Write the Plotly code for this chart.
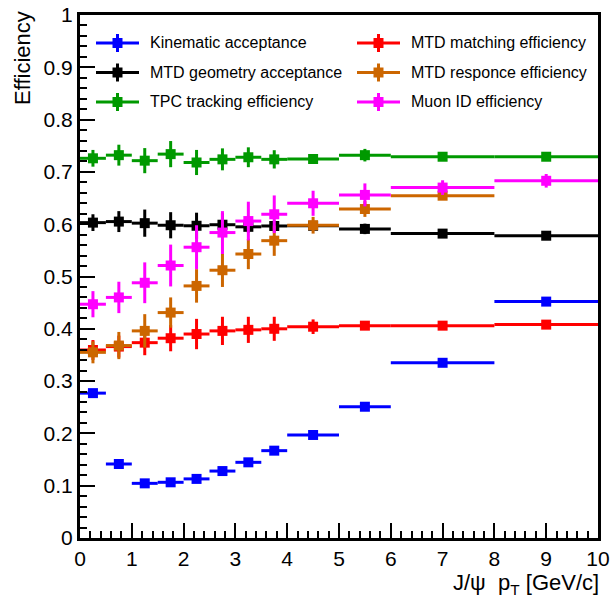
import plotly.graph_objects as go

# ---------------- data ----------------
bin_lo = [0, 0.5, 1, 1.5, 2, 2.5, 3, 3.5, 4, 5, 6, 8]
bin_hi = [0.5, 1, 1.5, 2, 2.5, 3, 3.5, 4, 5, 6, 8, 10]

kin = [0.277, 0.1415, 0.1045, 0.1065, 0.113, 0.128, 0.1447, 0.167, 0.197, 0.251, 0.335, 0.452]
kin_err = [0.002] * 12

match = [0.3595, 0.366, 0.3735, 0.382, 0.390, 0.396, 0.398, 0.400, 0.404, 0.406, 0.406, 0.408]
match_err = [0.019, 0.021, 0.024, 0.025, 0.029, 0.027, 0.025, 0.023, 0.014, 0.008, 0.004, 0.003]

geom = [0.603, 0.605, 0.602, 0.598, 0.597, 0.599, 0.595, 0.5966, 0.597, 0.591, 0.582, 0.578]
geom_err = [0.016, 0.020, 0.026, 0.025, 0.025, 0.022, 0.011, 0.010, 0.005, 0.010, 0.003, 0.003]

resp = [0.355, 0.368, 0.396, 0.431, 0.482, 0.512, 0.543, 0.5685, 0.598, 0.629, 0.6545]
resp_err = [0.021, 0.026, 0.032, 0.029, 0.032, 0.032, 0.029, 0.029, 0.016, 0.015, 0.004]

muon = [0.447, 0.46, 0.488, 0.521, 0.556, 0.584, 0.606, 0.619, 0.640, 0.656, 0.670, 0.683]
muon_err = [0.025, 0.030, 0.039, 0.040, 0.042, 0.041, 0.037, 0.036, 0.024, 0.022, 0.014, 0.013]

tpc = [0.726, 0.732, 0.7215, 0.734, 0.718, 0.724, 0.728, 0.724, 0.7247, 0.732, 0.729, 0.729]
tpc_err = [0.016, 0.020, 0.024, 0.025, 0.024, 0.021, 0.019, 0.0175, 0.008, 0.012, 0.003, 0.003]

names = ["Kinematic acceptance", "MTD geometry acceptance", "TPC tracking efficiency",
         "MTD matching efficiency", "MTD responce efficiency", "Muon ID efficiency"]

# ---------------- style ----------------
W, H = 612, 598
L, R, T, B = 80, 14, 15, 60
PW, PH = W - L - R, H - T - B
FONT = "Liberation Sans, Arial, Helvetica, sans-serif"

C_BLUE = "#0000ff"
C_RED = "#ff0000"
C_BLACK = "#000000"
C_GREEN = "#009900"
C_ORANGE = "#cc6600"
C_MAG = "#ff00ff"

centers = [(a + b) / 2 for a, b in zip(bin_lo, bin_hi)]
halfw = [(b - a) / 2 for a, b in zip(bin_lo, bin_hi)]

fig = go.Figure()

def add_series(y, err, color, name):
    n = len(y)
    fig.add_trace(go.Scatter(
        x=centers[:n], y=y, mode="markers", name=name, showlegend=False,
        marker=dict(symbol="square", size=10, color=color, line=dict(width=0)),
        error_x=dict(type="data", array=halfw[:n], symmetric=True, width=0,
                     thickness=3, color=color),
        error_y=dict(type="data", array=err, symmetric=True, width=0,
                     thickness=3, color=color),
    ))

add_series(kin, kin_err, C_BLUE, names[0])
add_series(geom, geom_err, C_BLACK, names[1])
add_series(tpc, tpc_err, C_GREEN, names[2])
add_series(match, match_err, C_RED, names[3])
add_series(resp, resp_err, C_ORANGE, names[4])
add_series(muon, muon_err, C_MAG, names[5])

# ---------------- manual ROOT-like legend ----------------
def pxx(x):
    return (x - L) / PW

def pyy(y):
    return (H - B - y) / PH

shapes = []
annotations = []
leg_entries = [
    (names[0], C_BLUE, 96, 148, 43),
    (names[1], C_BLACK, 96, 148, 72.5),
    (names[2], C_GREEN, 96, 148, 102),
    (names[3], C_RED, 357, 409, 43),
    (names[4], C_ORANGE, 357, 409, 72.5),
    (names[5], C_MAG, 357, 409, 102),
]
for text, col, sx, tx, ry in leg_entries:
    cx = sx + 21.5
    shapes.append(dict(type="line", xref="paper", yref="paper",
                       x0=pxx(sx), x1=pxx(sx + 43), y0=pyy(ry), y1=pyy(ry),
                       line=dict(color=col, width=3)))
    shapes.append(dict(type="line", xref="paper", yref="paper",
                       x0=pxx(cx), x1=pxx(cx), y0=pyy(ry - 9), y1=pyy(ry + 9),
                       line=dict(color=col, width=3)))
    shapes.append(dict(type="rect", xref="paper", yref="paper",
                       x0=pxx(cx - 5), x1=pxx(cx + 5), y0=pyy(ry - 5), y1=pyy(ry + 5),
                       fillcolor=col, line=dict(width=0)))
    annotations.append(dict(text=text, xref="paper", yref="paper",
                            x=pxx(tx), y=pyy(ry), xanchor="left", yanchor="middle",
                            showarrow=False, font=dict(size=16, color="black", family=FONT)))

# axis titles (ROOT style: at the end of the axis)
annotations.append(dict(text="J/\u03c8  p<sub>T</sub> [GeV/c]", xref="paper", yref="paper",
                        x=pxx(601), y=pyy(584), xanchor="right", yanchor="middle",
                        showarrow=False, font=dict(size=22, color="black", family=FONT)))
annotations.append(dict(text="Efficiency", xref="paper", yref="paper",
                        x=pxx(22), y=pyy(9), xanchor="center", yanchor="top",
                        textangle=-90, showarrow=False,
                        font=dict(size=22, color="black", family=FONT)))

axis_common = dict(
    showline=True, linewidth=3, linecolor="black", mirror=True,
    ticks="inside", ticklen=15, tickwidth=2, tickcolor="black",
    showgrid=False, zeroline=False, automargin=False,
    tickfont=dict(size=21, color="black", family=FONT),
)

fig.update_layout(
    width=W, height=H, autosize=False,
    margin=dict(l=L, r=R, t=T, b=B, pad=0, autoexpand=False),
    paper_bgcolor="white", plot_bgcolor="white",
    font=dict(family=FONT, color="black"),
    xaxis=dict(range=[0, 10], tick0=0, dtick=1,
               minor=dict(ticks="inside", ticklen=7, tickwidth=2, tickcolor="black", dtick=0.2),
               **axis_common),
    yaxis=dict(range=[0, 1], tick0=0, dtick=0.1,
               minor=dict(ticks="inside", ticklen=7, tickwidth=2, tickcolor="black", dtick=0.02),
               **axis_common),
    shapes=shapes,
    annotations=annotations,
    showlegend=False,
)

fig.write_html("out.html")
